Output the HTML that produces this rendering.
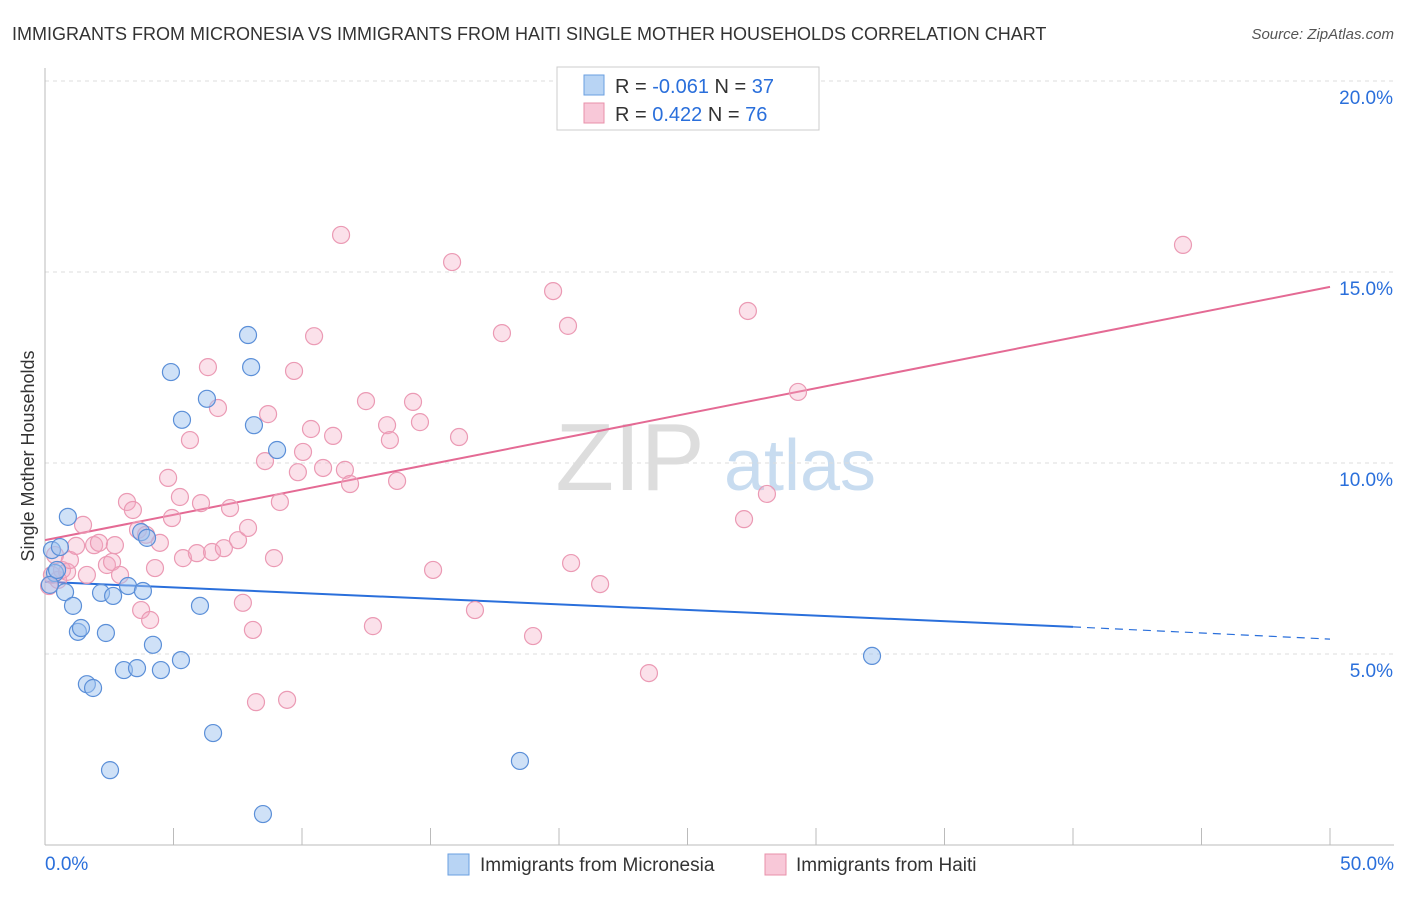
<!DOCTYPE html>
<html><head><meta charset="utf-8"><style>
body{margin:0;background:#fff;font-family:"Liberation Sans",sans-serif;}
svg text{font-family:"Liberation Sans",sans-serif;}
</style></head><body>
<svg id="chart" width="1406" height="892" xmlns="http://www.w3.org/2000/svg">
<text x="12" y="40" font-size="18" fill="#333">IMMIGRANTS FROM MICRONESIA VS IMMIGRANTS FROM HAITI SINGLE MOTHER HOUSEHOLDS CORRELATION CHART</text>
<text x="1394" y="39" font-size="15" fill="#555" text-anchor="end" font-style="italic">Source: ZipAtlas.com</text>
<g>
<text x="630" y="490" font-size="96" fill="#ddd" font-family="Liberation Serif" text-anchor="middle">ZIP</text>
<text x="800" y="490" font-size="72" fill="#c8dcf0" text-anchor="middle">atlas</text>
</g>
<g id="grid"></g>
<g id="axes"></g>
<text transform="translate(34,456) rotate(-90)" font-size="18" fill="#333" text-anchor="middle">Single Mother Households</text>
<g id="trend"></g>
<g id="pts"></g>
<g>
<rect x="557" y="67" width="262" height="63" fill="#fff" stroke="#ccc"/>
<rect x="584" y="75" width="20" height="20" fill="#b8d4f4" stroke="#6a9fe0"/>
<rect x="584" y="103" width="20" height="20" fill="#f8c8d8" stroke="#e890aa"/>
<text x="615" y="93" font-size="20" fill="#333">R = <tspan fill="#2a6fdb">-0.061</tspan>   N = <tspan fill="#2a6fdb">37</tspan></text>
<text x="615" y="121" font-size="20" fill="#333">R =  <tspan fill="#2a6fdb">0.422</tspan>   N = <tspan fill="#2a6fdb">76</tspan></text>
</g>
<g>
<rect x="448" y="854" width="21" height="21" fill="#b8d4f4" stroke="#6a9fe0"/>
<text x="480" y="871" font-size="19" fill="#333">Immigrants from Micronesia</text>
<rect x="765" y="854" width="21" height="21" fill="#f8c8d8" stroke="#e890aa"/>
<text x="796" y="871" font-size="19" fill="#333">Immigrants from Haiti</text>
</g>
</svg>
<script>
const yTicks=[5,10,15,20];
const yTickLabels=["5.0%","10.0%","15.0%","20.0%"];
const xTickLabels=["0.0%","50.0%"];
const blueX=[.27,.58,.39,.19,.89,.78,1.09,1.28,1.40,1.63,1.87,2.18,2.37,2.53,2.65,3.07,3.23,3.58,3.74,3.81,3.97,4.20,4.51,4.90,5.29,5.33,6.03,6.30,6.54,7.90,8.02,8.13,9.03,8.48,18.48,32.18,.47];
const blueY=[7.72,7.80,7.12,6.81,8.59,6.62,6.26,5.58,5.68,4.21,4.11,6.60,5.55,1.96,6.52,4.58,6.78,4.63,8.19,6.65,8.04,5.24,4.58,12.38,4.84,11.13,6.26,11.68,2.93,13.35,12.51,10.99,10.34,0.81,2.20,4.95,7.20];
const pinkX=[.16,.27,.39,.51,.66,.86,.97,1.21,1.48,1.63,1.91,2.10,2.41,2.61,2.72,2.92,3.19,3.42,3.62,3.74,3.93,4.09,4.28,4.47,4.79,4.94,5.25,5.37,5.64,5.91,6.07,6.34,6.50,6.73,6.96,7.20,7.51,7.70,7.90,8.09,8.21,8.56,8.68,8.91,9.14,9.42,9.69,9.84,10.04,10.35,10.47,10.82,11.21,11.52,11.67,11.87,12.49,12.76,13.31,13.42,13.70,14.32,14.59,15.10,15.84,16.11,16.73,17.78,18.99,19.77,20.35,20.47,21.60,23.50,27.20,27.35,28.09,29.30,44.28];
const pinkY=[6.78,7.07,7.59,6.94,7.20,7.15,7.46,7.83,8.38,7.07,7.85,7.91,7.33,7.41,7.85,7.07,8.98,8.77,8.25,6.15,8.12,5.89,7.25,7.91,9.61,8.56,9.11,7.51,10.60,7.64,8.95,12.51,7.67,11.44,7.77,8.82,7.98,6.34,8.30,5.63,3.74,10.05,11.28,7.51,8.98,3.80,12.41,9.76,10.29,10.89,13.32,9.87,10.71,15.97,9.82,9.45,11.62,5.73,10.99,10.60,9.53,11.60,11.07,7.20,15.26,10.68,6.15,13.40,5.47,14.50,13.59,7.38,6.83,4.50,8.53,13.98,9.19,11.86,15.71];
const blueTrend=[6.89,5.71,5.39]; // at x=0,40,50
const pinkTrend=[7.98,14.61]; // at x=0,50
const NS="http://www.w3.org/2000/svg";
const X=v=>45+v*25.7, Y=v=>845-v*38.2;
function mk(t,a,p){const e=document.createElementNS(NS,t);for(const k in a)e.setAttribute(k,a[k]);p.appendChild(e);return e;}
const grid=document.getElementById('grid'),axes=document.getElementById('axes');
yTicks.forEach((t,i)=>{
 const l=mk('line',{x1:45,x2:1394,y1:Y(t),y2:Y(t),stroke:'#ddd','stroke-dasharray':'4,4'},grid);
 
 
 const tx=mk('text',{x:1393,y:Y(t)+23,'font-size':19,fill:'#2a6fdb','text-anchor':'end'},axes);
 tx.textContent=yTickLabels[i];
 
 
});
mk('line',{x1:45,x2:45,y1:68,y2:845,stroke:'#bbb'},axes);
mk('line',{x1:45,x2:1394,y1:845,y2:845,stroke:'#bbb'},axes);
for(let i=0;i<=10;i++){const t=mk('line',{x1:X(i*5),x2:X(i*5),y1:828,y2:845,stroke:'#bbb'},axes);
 
 }
[[0,'start',45],[50,'end',1394]].forEach((d,i)=>{const t=mk('text',{x:d[2],y:870,'font-size':19,fill:'#2a6fdb','text-anchor':d[1]},axes);t.textContent=xTickLabels[i];
 
 });
const tr=document.getElementById('trend');
let b1=mk('line',{x1:X(0),y1:Y(blueTrend[0]),x2:X(40),y2:Y(blueTrend[1]),stroke:'#2a6fdb','stroke-width':2},tr);


let b2=mk('line',{x1:X(40),y1:Y(blueTrend[1]),x2:X(50),y2:Y(blueTrend[2]),stroke:'#2a6fdb','stroke-width':1.2,'stroke-dasharray':'8,6'},tr);


let p1=mk('line',{x1:X(0),y1:Y(pinkTrend[0]),x2:X(50),y2:Y(pinkTrend[1]),stroke:'#e46a94','stroke-width':2},tr);


const pts=document.getElementById('pts');
pinkX.forEach((x,i)=>{const c=mk('circle',{cx:X(x),cy:Y(pinkY[i]),r:8.5,fill:'rgba(244,170,195,0.35)',stroke:'#eb9ab4','stroke-width':1.2},pts);
 
 });
blueX.forEach((x,i)=>{const c=mk('circle',{cx:X(x),cy:Y(blueY[i]),r:8.5,fill:'rgba(160,195,240,0.5)',stroke:'#5b8fd8','stroke-width':1.2},pts);
 
 });
</script>
</body></html>
